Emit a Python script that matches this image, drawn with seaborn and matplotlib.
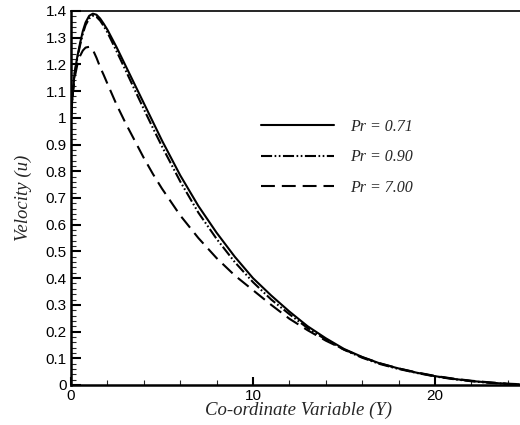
import numpy as np
import pandas as pd
import matplotlib
matplotlib.use("Agg")
import matplotlib.pyplot as plt
import seaborn as sns
from matplotlib.ticker import MultipleLocator, FuncFormatter

# ---- data ----
Y = [0, 0.1, 0.2, 0.35, 0.5, 0.65, 0.8, 1.0, 1.2, 1.4, 1.6, 1.8, 2, 2.5, 3, 3.5,
     4, 4.5, 5, 6, 7, 8, 9, 10, 11, 12, 13, 14, 15, 16, 17, 18, 19, 20, 21, 22,
     23, 24, 25]
u_pr071 = [1.00, 1.10, 1.17, 1.23, 1.28, 1.325, 1.357, 1.382, 1.39, 1.386, 1.372,
           1.352, 1.33, 1.265, 1.195, 1.125, 1.055, 0.985, 0.915, 0.785, 0.67,
           0.57, 0.48, 0.40, 0.335, 0.275, 0.22, 0.175, 0.135, 0.105, 0.08, 0.062,
           0.046, 0.033, 0.023, 0.015, 0.009, 0.004, 0.001]
u_pr090 = [1.00, 1.095, 1.165, 1.225, 1.272, 1.315, 1.347, 1.372, 1.382, 1.378,
           1.364, 1.343, 1.32, 1.25, 1.178, 1.105, 1.033, 0.962, 0.893, 0.762,
           0.645, 0.547, 0.46, 0.385, 0.32, 0.265, 0.213, 0.17, 0.132, 0.102,
           0.078, 0.06, 0.045, 0.032, 0.022, 0.014, 0.008, 0.004, 0.001]
u_pr700 = [1.00, 1.09, 1.15, 1.20, 1.232, 1.252, 1.263, 1.266, 1.255, 1.225,
           1.19, 1.16, 1.128, 1.05, 0.98, 0.915, 0.85, 0.79, 0.735, 0.635, 0.55,
           0.475, 0.41, 0.355, 0.30, 0.248, 0.205, 0.166, 0.133, 0.104, 0.081,
           0.062, 0.047, 0.034, 0.024, 0.016, 0.01, 0.005, 0.002]
labels = ["Pr = 0.71", "Pr = 0.90", "Pr = 7.00"]

W, H = 520, 425
sns.set_style("ticks")
plt.rcParams["lines.scale_dashes"] = False
plt.rcParams["font.family"] = ["Liberation Sans", "DejaVu Sans"]

fig = plt.figure(figsize=(W / 100, H / 100), dpi=100)
ax = fig.add_axes([71 / W, 40 / H, 455 / W, 374 / H])

series = [u_pr071, u_pr090, u_pr700]
dashes = [None, (8, 1.8, 1.2, 1.8, 1.2, 1.8), (10, 5)]
for vals, lab, d in zip(series, labels, dashes):
    sns.lineplot(x=Y, y=vals, ax=ax, color="black", lw=1.5, label=lab,
                 estimator=None, sort=False)
    line = ax.lines[-1]
    line.set_solid_joinstyle("round")
    line.set_dash_joinstyle("round")
    if d is not None:
        line.set_dashes(d)

ax.set_xlim(0, 25)
ax.set_ylim(0, 1.4)
ax.xaxis.set_major_locator(MultipleLocator(10))
ax.xaxis.set_minor_locator(MultipleLocator(2))
ax.yaxis.set_major_locator(MultipleLocator(0.1))
ax.yaxis.set_minor_locator(MultipleLocator(0.02))
ax.yaxis.set_major_formatter(FuncFormatter(lambda v, p: f"{v:g}" if abs(v) > 1e-9 else "0"))
ax.xaxis.set_major_formatter(FuncFormatter(lambda v, p: f"{v:g}"))

ax.tick_params(axis="both", which="major", direction="in", width=1.5,
               labelsize=11, colors="black")
ax.tick_params(axis="y", which="major", length=7, pad=3)
ax.tick_params(axis="x", which="major", length=6, pad=3)
ax.tick_params(axis="both", which="minor", direction="in", length=3.5, width=0.8)
ax.tick_params(top=False, right=False, which="both")

for s in ["left", "bottom"]:
    ax.spines[s].set_linewidth(1.8)
ax.spines["top"].set_linewidth(1.2)
ax.spines["right"].set_visible(True)
ax.spines["right"].set_linewidth(1.2)
for s in ax.spines.values():
    s.set_color("black")

lab_font = dict(family=["Liberation Serif", "DejaVu Serif"], style="italic", size=13.5)
ax.set_xlabel("Co-ordinate Variable (Y)", labelpad=-1, **lab_font)
ax.set_ylabel("Velocity (u)", labelpad=10, **lab_font)

leg = ax.legend(loc="upper left", bbox_to_anchor=(261 / W, 1 - 119 / H),
                bbox_transform=fig.transFigure, frameon=False, borderpad=0,
                borderaxespad=0, handlelength=4.6, handletextpad=1.0,
                labelspacing=0.9,
                prop=dict(family=["Liberation Serif"], style="italic", size=11.5))

fig.savefig("out.png", dpi=100)
